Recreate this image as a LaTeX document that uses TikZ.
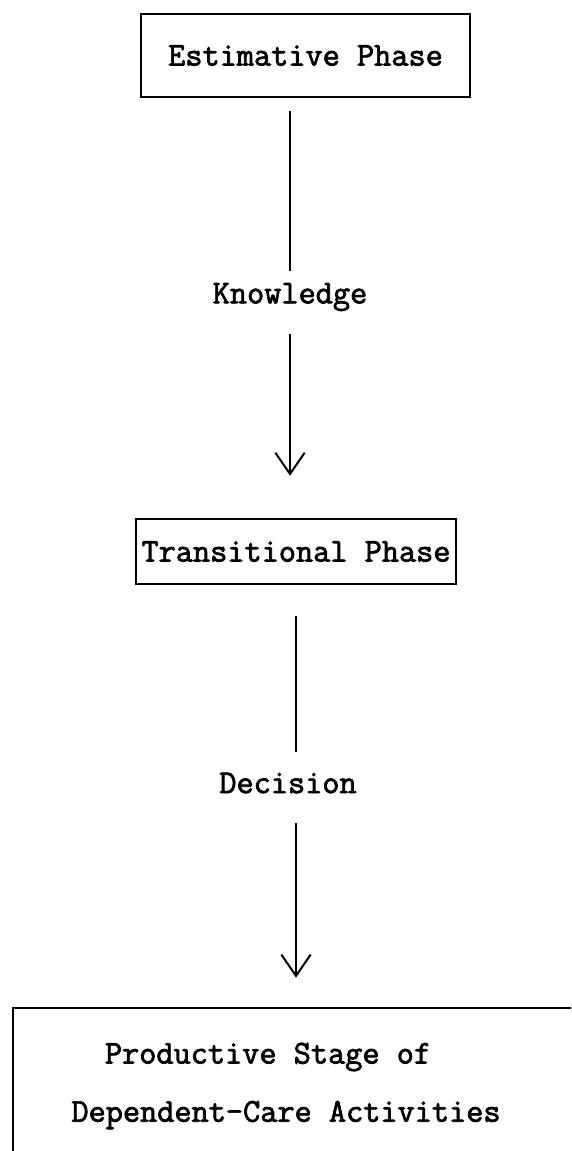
\documentclass[tikz,border=0pt]{standalone}
\usepackage{fontspec}
\usetikzlibrary{arrows.meta}

\newfontfamily\typerfam{Latin Modern Mono}[FakeBold=2.2]
\newcommand{\phasefont}{\fontsize{25}{30}\selectfont\typerfam}
\tikzset{
  phasebox/.style={draw, line width=1.8pt, inner sep=0pt, font=\phasefont},
  flowlabel/.style={inner sep=0pt, font=\phasefont},
  flowline/.style={line width=1.5pt},
  flowarrow/.style={flowline, -{Straight Barb[length=16pt,width=22pt,line width=1.5pt]}},
}

\begin{document}
\begin{tikzpicture}[x=0.75pt,y=0.75pt,yscale=-1,xscale=1]
\clip (0,0) rectangle (571,1151);

%Shape: Rectangle
\node[phasebox, minimum width=246.75pt, minimum height=62.25pt] (est) at (305.5,55.5) {Estimative Phase};
%Shape: Rectangle
\node[phasebox, minimum width=240pt, minimum height=48.75pt] (trans) at (296,551.5) {Transitional Phase};
%Shape: Rectangle
\node[phasebox, anchor=north west, minimum width=450pt, minimum height=150pt] (prod) at (12,1007) {};

% Text Node
\node[flowlabel] (know) at (290,297) {Knowledge};
% Text Node
\node[flowlabel] (dec) at (288,783) {Decision};
% Text Node
\node[flowlabel] (prodA) at (268,1057) {Productive Stage of};
% Text Node
\node[flowlabel] (prodB) at (286,1115) {Dependent-Care Activities};

%Straight Lines
\draw[flowline, shorten <=9.75pt, shorten >=9pt] (know.north |- est.south) -- (know.north);
\draw[flowarrow, shorten <=17pt, shorten >=31.5pt] (know.south) -- (know.south |- trans.north);
%Straight Lines
\draw[flowline, shorten <=23pt, shorten >=15pt] (trans.south) -- (trans.south |- dec.north);
\draw[flowarrow, shorten <=22pt, shorten >=22pt] (trans.south |- dec.south) -- (trans.south |- prod.north);

\end{tikzpicture}
\end{document}
